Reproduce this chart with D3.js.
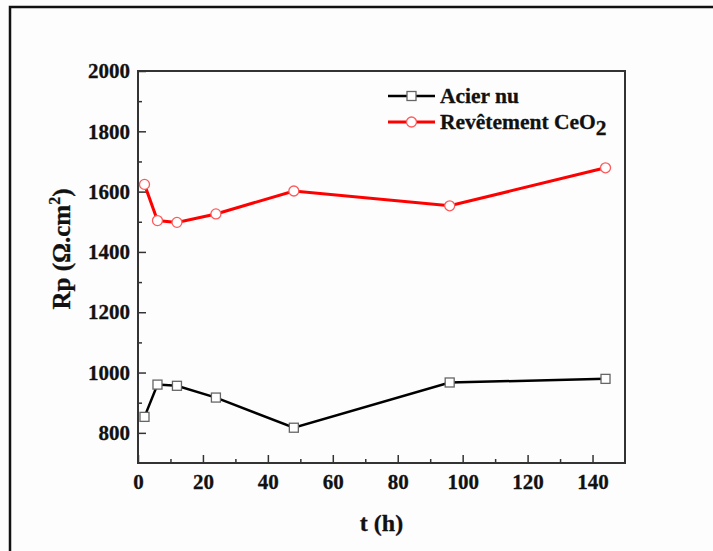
<!DOCTYPE html>
<html>
<head>
<meta charset="utf-8">
<script src="https://cdn.jsdelivr.net/npm/d3@7"></script>
<style>
  html, body { margin: 0; padding: 0; background: #fdfdfd; }
  svg text { font-family: "Liberation Serif", "Times New Roman", serif; font-weight: bold; fill: #111; stroke: #111; stroke-width: 0.3px; }
</style>
</head>
<body>
<script>
// ---- data ----
const times = [2, 6, 12, 24, 48, 96, 144];
const acierNu = [853, 960, 956, 917, 817, 967, 979];
const revetementCeO2 = [1624, 1504, 1498, 1526, 1602, 1553, 1679];
const xTicks = [0, 20, 40, 60, 80, 100, 120, 140];
const yTicks = [800, 1000, 1200, 1400, 1600, 1800, 2000];
const xMinor = [10, 30, 50, 70, 90, 110, 130];
const yMinor = [900, 1100, 1300, 1500, 1700, 1900];

const W = 713, H = 551;
const FONT = '"Liberation Serif", "Times New Roman", serif';
const margin = { left: 138, top: 71, right: 713 - 625, bottom: 551 - 463 };
const iw = W - margin.left - margin.right, ih = H - margin.top - margin.bottom;

const svg = d3.select("body").append("svg").attr("width", W).attr("height", H)
  .attr("font-family", FONT);
svg.append("rect").attr("width", W).attr("height", H).attr("fill", "#fdfdfd");

// outer frame (left and top edges visible)
svg.append("path").attr("d", `M10,${H} L10,7 L${W},7`).attr("fill", "none")
  .attr("stroke", "#111").attr("stroke-width", 2.5);

const g = svg.append("g").attr("transform", `translate(${margin.left},${margin.top})`);

const x = d3.scaleLinear().domain([0, 150]).range([0, iw]);
const y = d3.scaleLinear().domain([700, 2000]).range([ih, 0]);

// axes
const axisColor = "#333";
function styleAxis(sel) {
  sel.attr("font-family", FONT).attr("font-weight", "bold");
  sel.select(".domain").remove();
  sel.selectAll(".tick line").attr("stroke", axisColor).attr("stroke-width", 1.5);
}
const xAxis = g.append("g").attr("transform", `translate(0,${ih})`)
  .call(d3.axisBottom(x).tickValues(xTicks).tickSize(-8).tickPadding(11).tickFormat(d3.format("d")));
styleAxis(xAxis);
xAxis.selectAll("text").attr("font-size", 21).attr("font-family", FONT).attr("fill", "#111");
const xAxisMinor = g.append("g").attr("transform", `translate(0,${ih})`)
  .call(d3.axisBottom(x).tickValues(xMinor).tickSize(-4).tickFormat(""));
styleAxis(xAxisMinor);

const yAxis = g.append("g")
  .call(d3.axisLeft(y).tickValues(yTicks).tickSize(-8).tickPadding(8).tickFormat(d3.format("d")));
styleAxis(yAxis);
yAxis.selectAll("text").attr("font-size", 21).attr("font-family", FONT).attr("fill", "#111");
const yAxisMinor = g.append("g")
  .call(d3.axisLeft(y).tickValues(yMinor).tickSize(-4).tickFormat(""));
styleAxis(yAxisMinor);

g.append("rect").attr("width", iw).attr("height", ih).attr("fill", "none")
  .attr("stroke", axisColor).attr("stroke-width", 2);

// series
const seriesDefs = [
  { name: "Acier nu", values: acierNu, color: "#000", marker: "square", mstroke: "#666", lw: 2.5 },
  { name: "Revêtement CeO", values: revetementCeO2, color: "#ff0000", marker: "circle", mstroke: "#ff5a5a", lw: 3 }
];
const line = d3.line().x(d => x(d[0])).y(d => y(d[1]));

function drawMarker(sel, def, cx, cy) {
  if (def.marker === "square") {
    sel.append("rect").attr("x", cx - 4.5).attr("y", cy - 4.5).attr("width", 9).attr("height", 9)
      .attr("fill", "#fff").attr("stroke", def.mstroke).attr("stroke-width", 1.3);
  } else {
    sel.append("circle").attr("cx", cx).attr("cy", cy).attr("r", 5)
      .attr("fill", "#fff").attr("stroke", def.mstroke).attr("stroke-width", 1.3);
  }
}

seriesDefs.forEach(def => {
  const pts = times.map((t, i) => [t, def.values[i]]);
  g.append("path").datum(pts).attr("d", line).attr("fill", "none")
    .attr("stroke", def.color).attr("stroke-width", def.lw);
  const mg = g.append("g");
  pts.forEach(p => drawMarker(mg, def, x(p[0]), y(p[1])));
});

// legend
const lg = svg.append("g");
seriesDefs.forEach((def, i) => {
  const ly = 96 + i * 26;
  lg.append("line").attr("x1", 388).attr("x2", 435).attr("y1", ly).attr("y2", ly)
    .attr("stroke", def.color).attr("stroke-width", def.lw);
  drawMarker(lg, def, 411.5, ly);
  const t = lg.append("text").attr("x", 440).attr("y", ly + 6.5).attr("font-size", 21.5).text(def.name);
  if (i === 1) {
    t.append("tspan").attr("dy", 6).text("2");
  }
});

// axis titles
svg.append("text").attr("x", margin.left + iw / 2).attr("y", 531).attr("text-anchor", "middle")
  .attr("font-size", 24).text("t (h)");

const yt = svg.append("text").attr("transform", `translate(70,${249}) rotate(-90)`)
  .attr("text-anchor", "middle").attr("font-size", 25);
yt.append("tspan").text("Rp (Ω.cm");
yt.append("tspan").attr("dy", -10).attr("font-size", 16).text("2");
yt.append("tspan").attr("dy", 10).text(")");
</script>
</body>
</html>
